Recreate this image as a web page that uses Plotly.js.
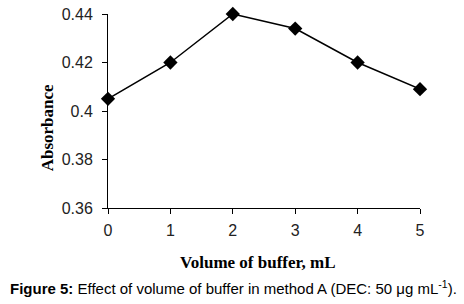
<!DOCTYPE html>
<html>
<head>
<meta charset="utf-8">
<script src="https://cdn.plot.ly/plotly-3.0.1.min.js"></script>
<style>html,body{margin:0;padding:0;background:#fff;}#chart{width:464px;height:304px;}</style>
</head>
<body>
<div id="chart"></div>
<script>
const volumes = [0, 1, 2, 3, 4, 5];
const absorbance = [0.405, 0.420, 0.440, 0.434, 0.420, 0.409];
const yTicks = [0.36, 0.38, 0.40, 0.42, 0.44];
const yTickLabels = ['0.36', '0.38', '0.4', '0.42', '0.44'];
const xTicks = [0, 1, 2, 3, 4, 5];

const trace = {
  x: volumes, y: absorbance, type: 'scatter', mode: 'lines+markers',
  line: {color: '#000', width: 1.5},
  marker: {symbol: 'diamond', size: 11, color: '#000'},
  cliponaxis: false, hoverinfo: 'skip'
};

const layout = {
  width: 464, height: 304,
  margin: {l: 108, r: 44, t: 14, b: 96},
  paper_bgcolor: '#fff', plot_bgcolor: '#fff',
  showlegend: false,
  xaxis: {
    range: [0, 5], tickvals: xTicks, ticks: 'outside', ticklen: 5, tickcolor: '#000',
    showline: true, linecolor: '#000', linewidth: 1, showgrid: false, zeroline: false,
    ticklabelstandoff: 3,
    tickfont: {family: 'Liberation Sans, Arial', size: 16, color: '#222'}
  },
  yaxis: {
    range: [0.36, 0.44], tickvals: yTicks, ticktext: yTickLabels, ticks: 'outside', ticklen: 5, tickcolor: '#000',
    showline: true, linecolor: '#000', linewidth: 1, showgrid: false, zeroline: false,
    ticklabelstandoff: 6,
    tickfont: {family: 'Liberation Sans, Arial', size: 16, color: '#222'}
  },
  annotations: [
    {text: '<b>Absorbance</b>', xref: 'paper', yref: 'paper', x: -0.193, y: 0.415, textangle: -90,
     showarrow: false, xanchor: 'center', yanchor: 'middle',
     font: {family: 'Liberation Serif, Times New Roman', size: 17, color: '#000'}},
    {text: '<b>Volume of buffer, mL</b>', xref: 'paper', yref: 'paper', x: 0.482, y: -0.28,
     showarrow: false, xanchor: 'center', yanchor: 'middle',
     font: {family: 'Liberation Serif, Times New Roman', size: 17, color: '#000'}},
    {text: '<b>Figure 5:</b> Effect of volume of buffer in method A (DEC: 50 μg mL<sup>-1</sup>).',
     xref: 'paper', yref: 'paper', x: -0.321, y: -0.41,
     showarrow: false, xanchor: 'left', yanchor: 'middle',
     font: {family: 'Liberation Sans, Arial', size: 15, color: '#000'}}
  ]
};

Plotly.newPlot('chart', [trace], layout, {staticPlot: true, displayModeBar: false});
</script>
</body>
</html>
